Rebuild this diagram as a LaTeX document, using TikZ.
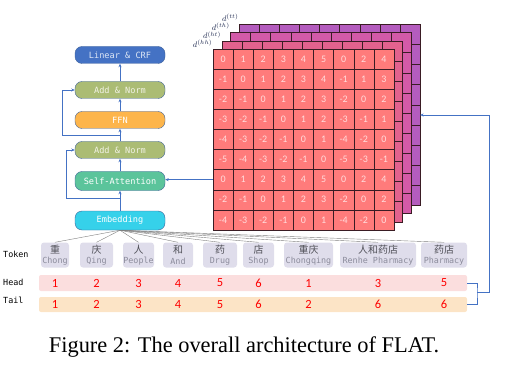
\documentclass[tikz,border=0pt]{standalone}
\usepackage{fontspec}
\setmainfont{Liberation Serif}
\setmonofont{DejaVu Sans Mono}
\newfontfamily\calib{Carlito}
\newfontfamily\cjk{Noto Sans CJK SC}
\usetikzlibrary{arrows.meta,positioning}
\definecolor{crfblue}{HTML}{4472C4}
\definecolor{crftext}{HTML}{DCE6F5}
\definecolor{normgreen}{HTML}{ABBC74}
\definecolor{normtext}{HTML}{F2F2E6}
\definecolor{ffnorange}{HTML}{FDB54B}
\definecolor{attgreen}{HTML}{5BC49B}
\definecolor{embcyan}{HTML}{36D1EA}
\definecolor{boxline}{HTML}{41639A}
\definecolor{linkblue}{HTML}{4472C4}
\definecolor{cellred}{HTML}{FF7B7B}
\definecolor{celltext}{HTML}{FFDCDC}
\definecolor{cellline}{HTML}{3A1C24}
\definecolor{htpink}{HTML}{E2628E}
\definecolor{thpink}{HTML}{D35AA8}
\definecolor{ttpurple}{HTML}{B45CBE}
\definecolor{dlabel}{HTML}{1F2A50}
\definecolor{tokfill}{HTML}{DFDDEB}
\definecolor{tokgray}{HTML}{8C8C9C}
\definecolor{cjkgray}{HTML}{505058}
\definecolor{headfill}{HTML}{FBDEDE}
\definecolor{tailfill}{HTML}{FCE4C6}
\definecolor{fangray}{HTML}{7F7F7F}
\tikzset{
  layer/.style={draw=boxline, rounded corners=7pt, minimum width=90pt, minimum height=17pt,
    inner sep=0pt, font=\ttfamily\fontsize{8.6}{10}\selectfont, text=white},
  cell/.style={draw=cellline, fill=cellred, minimum size=20.1pt, inner sep=0pt,
    text=celltext, font=\calib\fontsize{10}{12}\selectfont},
  token/.style={fill=tokfill, rounded corners=3pt, minimum height=25pt, inner sep=0pt,
    align=center, font=\ttfamily\fontsize{8.4}{10.5}\selectfont, text=tokgray},
  rowlabel/.style={anchor=west, inner sep=0pt, font=\ttfamily\fontsize{8.4}{10}\selectfont},
  num/.style={text=red, inner sep=0pt, font=\calib\fontsize{12.5}{14}\selectfont},
  dlab/.style={anchor=south east, inner sep=0pt, text depth=0pt, text=dlabel,
    font=\fontsize{8}{9}\selectfont},
  link/.style={draw=linkblue, line width=0.6pt},
  fan/.style={draw=fangray, line width=0.4pt}
}
\begin{document}
\begin{tikzpicture}[x=1pt,y=-1pt,>={Stealth[length=3.5pt,width=3pt]}]
\useasboundingbox (0,0) rectangle (508,366);

\node[layer, fill=crfblue, text=crftext] (crf) at (120,55) {Linear \& CRF};
\node[layer, fill=normgreen, text=normtext] (norm2) at (120,90) {Add \& Norm};
\node[layer, fill=ffnorange] (ffn) at (120,120) {FFN};
\node[layer, fill=normgreen, text=normtext] (norm1) at (120,150) {Add \& Norm};
\node[layer, fill=attgreen, minimum height=19pt] (att) at (120,181) {Self-Attention};
\node[layer, fill=embcyan, minimum height=19pt] (emb) at (120,220.5) {Embedding};

\draw[link,->] (emb) -- (att);
\draw[link,->] (att) -- (norm1);
\draw[link,->] (norm1) -- (ffn);
\draw[link,->] (ffn) -- (norm2);
\draw[link,->] (norm2) -- (crf);
\coordinate (res1) at (120,198);
\coordinate (res2) at (120,135);
\draw[link,->] (res1) -- ++(-54,0) |- (norm1.west);
\draw[link,->] (res2) -- ++(-58,0) |- (norm2.west);

\foreach \k/\col in {3/ttpurple,2/thpink,1/htpink}{
  \begin{scope}[shift={(8.7*\k,-8.2*\k)}]
    \foreach \i in {0,...,8}
      \foreach \j in {0,...,8}
        \draw[draw=cellline, fill=\col] (213+20.1*\i,49+20.1*\j) rectangle ++(20.1,20.1);
  \end{scope}
}
\foreach \row [count=\j from 0] in {{0,1,2,3,4,5,0,2,4},{-1,0,1,2,3,4,-1,1,3},
    {-2,-1,0,1,2,3,-2,0,2},{-3,-2,-1,0,1,2,-3,-1,1},{-4,-3,-2,-1,0,1,-4,-2,0},
    {-5,-4,-3,-2,-1,0,-5,-3,-1},{0,1,2,3,4,5,0,2,4},{-2,-1,0,1,2,3,-2,0,2},
    {-4,-3,-2,-1,0,1,-4,-2,0}}
  \foreach \v [count=\i from 0] in \row
    \node[cell] (c\j\i) at (223.05+20.1*\i,59.05+20.1*\j) {\v};

\foreach \k/\dl in {0/hh,1/ht,2/th,3/tt}
  \node[dlab] (d\dl) at (212.5+8.7*\k,47.8-8.6*\k) {$d^{(\dl)}$};

\coordinate (ttR) at (420.1,115);
\draw[link,->] (c60.west) -- (c60.west -| att.east);

\foreach \x/\w/\zh/\en [count=\k] in {55/28/重/Chong, 96.5/33/庆/Qing, 138.5/31/人/People,
    178/30/和/And, 220/34/药/Drug, 258.5/31/店/Shop, 308.5/49/重庆/Chongqing,
    378/76/人和药店/Renhe Pharmacy, 444/46/药店/Pharmacy}
  \node[token, minimum width=\w pt] (tok\k) at (\x,255) {{\cjk\color{cjkgray}\fontsize{10}{11}\selectfont \zh}\\\en};
\foreach \k in {1,...,9}
  \draw[fan] (emb.south) -- (tok\k.north);

\node[rowlabel] (tokenlab) at (3,254) {Token};
\node[rowlabel] (headlab) at (3,282) {Head};
\node[rowlabel] (taillab) at (3,300.5) {Tail};

\node[fill=headfill, rounded corners=2pt, minimum width=428pt, minimum height=16pt] (headbar) at (253,283) {};
\node[fill=tailfill, rounded corners=2pt, minimum width=428pt, minimum height=15pt] (tailbar) at (253,304.5) {};
\foreach \v [count=\k] in {1,2,3,4,5,6,1,3,5}
  \node[num] (h\k) at (tok\k |- headbar) {\v};
\foreach \v [count=\k] in {1,2,3,4,5,6,2,6,6}
  \node[num] (t\k) at (tok\k |- tailbar) {\v};

\coordinate (brk) at (477,292);
\draw[link] (headbar.east) -| (brk) |- (tailbar.east);
\draw[link,->] (brk) -- ++(12,0) |- (ttR);

\node[font=\fontsize{22.4}{24}\selectfont] (caption) at (244,347) {Figure 2: The overall architecture of FLAT.};

\end{tikzpicture}
\end{document}
